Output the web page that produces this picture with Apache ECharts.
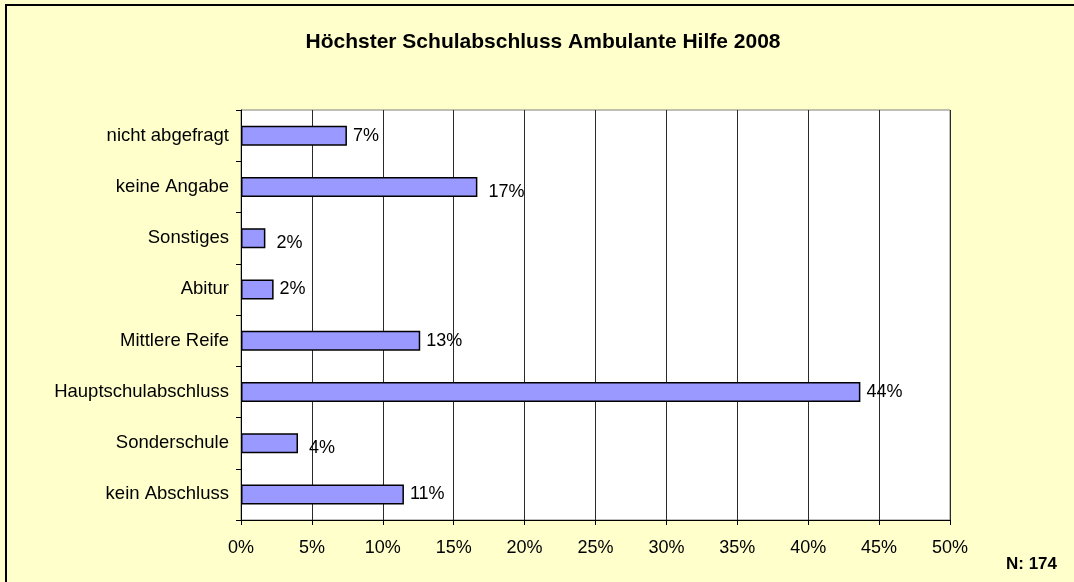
<!DOCTYPE html>
<html>
<head>
<meta charset="utf-8">
<script src="https://cdn.jsdelivr.net/npm/echarts@6/dist/echarts.min.js"></script>
<style>
  html, body { margin: 0; padding: 0; background: #ffffcc; }
  #chart { width: 1074px; height: 582px; }
</style>
</head>
<body>
<div id="chart"></div>
<script>
// categories bottom to top, as drawn on the y axis
const categories = [
  "kein Abschluss",
  "Sonderschule",
  "Hauptschulabschluss",
  "Mittlere Reife",
  "Abitur",
  "Sonstiges",
  "keine Angabe",
  "nicht abgefragt",
];
// share in percent (N = 174)
const shares = [11.49, 4.02, 43.68, 12.64, 2.3, 1.72, 16.67, 7.47];
const xTicks = [0, 5, 10, 15, 20, 25, 30, 35, 40, 45, 50];
const titleText = "Höchster Schulabschluss Ambulante Hilfe 2008";
const noteText = "N: 174";

const font = "Liberation Sans, Arial, sans-serif";
const myChart = echarts.init(document.getElementById("chart"));

// a few labels sit a bit lower/right in the original
const shifted = ["Sonderschule", "Sonstiges", "keine Angabe"];
const barData = shares.map((v, i) =>
  shifted.includes(categories[i])
    ? { value: v, label: { offset: [5, 5] } }
    : v
);

var option = {
  backgroundColor: "#ffffcc",
  animation: false,
  title: {
    text: titleText,
    left: 538,
    textAlign: "center",
    top: 27,
    textStyle: { fontFamily: font, fontSize: 21, fontWeight: "bold", color: "#000" },
  },
  graphic: [
    {
      type: "rect",
      shape: { x: 6, y: 5, width: 1200, height: 700 },
      style: { fill: "none", stroke: "#000", lineWidth: 2 },
      silent: true,
    },
    {
      type: "text",
      left: 1006,
      top: 556,
      style: { text: noteText, font: "bold 17px " + font, fill: "#000" },
    },
  ],
  grid: {
    left: 241,
    right: 124,
    top: 110,
    bottom: 62,
    show: true,
    backgroundColor: "#ffffff",
    borderColor: "#808080",
    borderWidth: 1,
  },
  xAxis: {
    type: "value",
    min: xTicks[0],
    max: xTicks[xTicks.length - 1],
    interval: 5,
    axisLine: { show: true, lineStyle: { color: "#000" } },
    axisTick: { show: true, length: 5, lineStyle: { color: "#000" } },
    splitLine: { show: true, lineStyle: { color: "#2a2a2a", width: 1 } },
    axisLabel: {
      margin: 19,
      fontFamily: font,
      fontSize: 18,
      color: "#000",
      formatter: (v) => v + "%",
    },
  },
  yAxis: {
    type: "category",
    data: categories,
    axisLine: { show: true, lineStyle: { color: "#000" } },
    axisTick: { show: true, length: 5, lineStyle: { color: "#000" } },
    axisLabel: { margin: 12, fontFamily: font, fontSize: 18.5, color: "#000" },
  },
  series: [
    {
      type: "bar",
      data: barData,
      barWidth: 20,
      itemStyle: { color: "#9999ff", borderColor: "#000", borderWidth: 1.5 },
      label: {
        show: true,
        position: "right",
        distance: 6,
        fontFamily: font,
        fontSize: 18,
        color: "#000",
        formatter: (p) => Math.round(p.value) + "%",
      },
    },
  ],
};

option && myChart.setOption(option);
</script>
</body>
</html>
